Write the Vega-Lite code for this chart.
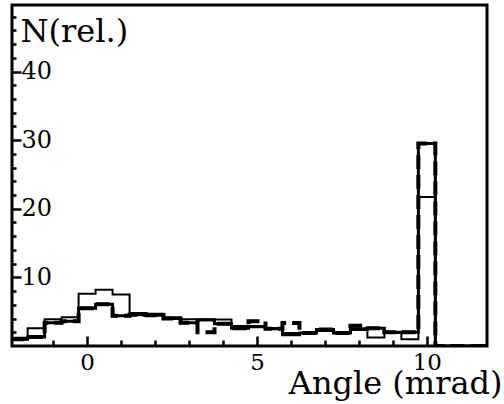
{
  "$schema": "https://vega.github.io/schema/vega-lite/v6.json",
  "width": 475,
  "height": 341,
  "autosize": "none",
  "padding": {"left": 12, "top": 5, "right": 17, "bottom": 58},
  "background": "white",
  "config": {
    "view": {"stroke": "black", "strokeWidth": 3},
    "font": "DejaVu Serif"
  },
  "data": {
    "values": [
      {"s": "thin", "e": -2.25, "n": 1.2}, {"s": "thin", "e": -1.75, "n": 2.6}, {"s": "thin", "e": -1.25, "n": 3.9}, {"s": "thin", "e": -0.75, "n": 4.2}, {"s": "thin", "e": -0.25, "n": 7.6}, {"s": "thin", "e": 0.25, "n": 8.2}, {"s": "thin", "e": 0.75, "n": 7.5}, {"s": "thin", "e": 1.25, "n": 4.8}, {"s": "thin", "e": 1.75, "n": 4.7}, {"s": "thin", "e": 2.25, "n": 4.2}, {"s": "thin", "e": 2.75, "n": 3.9}, {"s": "thin", "e": 3.25, "n": 3.9}, {"s": "thin", "e": 3.75, "n": 3.85}, {"s": "thin", "e": 4.25, "n": 2.9}, {"s": "thin", "e": 4.75, "n": 2.9}, {"s": "thin", "e": 5.25, "n": 2.6}, {"s": "thin", "e": 5.75, "n": 1.9}, {"s": "thin", "e": 6.25, "n": 1.9}, {"s": "thin", "e": 6.75, "n": 2.2}, {"s": "thin", "e": 7.25, "n": 1.9}, {"s": "thin", "e": 7.75, "n": 2.6}, {"s": "thin", "e": 8.25, "n": 1.25}, {"s": "thin", "e": 8.75, "n": 1.9}, {"s": "thin", "e": 9.25, "n": 1.0}, {"s": "thin", "e": 9.75, "n": 21.7}, {"s": "thin", "e": 10.25, "n": 0}, {"s": "thin", "e": 11.75, "n": 0},
      {"s": "thick", "e": -2.25, "n": 1.0}, {"s": "thick", "e": -1.75, "n": 1.3}, {"s": "thick", "e": -1.25, "n": 3.4}, {"s": "thick", "e": -0.75, "n": 3.6}, {"s": "thick", "e": -0.25, "n": 5.5}, {"s": "thick", "e": 0.25, "n": 6.1}, {"s": "thick", "e": 0.75, "n": 4.4}, {"s": "thick", "e": 1.25, "n": 4.55}, {"s": "thick", "e": 1.75, "n": 4.5}, {"s": "thick", "e": 2.25, "n": 4.0}, {"s": "thick", "e": 2.75, "n": 3.4}, {"s": "thick", "e": 3.25, "n": 3.8}, {"s": "thick", "e": 3.75, "n": 3.25}, {"s": "thick", "e": 4.25, "n": 2.6}, {"s": "thick", "e": 4.75, "n": 2.8}, {"s": "thick", "e": 5.25, "n": 2.5}, {"s": "thick", "e": 5.75, "n": 1.65}, {"s": "thick", "e": 6.25, "n": 1.9}, {"s": "thick", "e": 6.75, "n": 2.4}, {"s": "thick", "e": 7.25, "n": 1.9}, {"s": "thick", "e": 7.75, "n": 2.4}, {"s": "thick", "e": 8.25, "n": 2.6}, {"s": "thick", "e": 8.75, "n": 2.0}, {"s": "thick", "e": 9.25, "n": 2.0}, {"s": "thick", "e": 9.75, "n": 29.5}, {"s": "thick", "e": 10.25, "n": 0}, {"s": "thick", "e": 11.75, "n": 0},
      {"s": "dashed", "e": -2.25, "n": 1.0}, {"s": "dashed", "e": -1.75, "n": 1.3}, {"s": "dashed", "e": -1.25, "n": 3.4}, {"s": "dashed", "e": -0.75, "n": 3.6}, {"s": "dashed", "e": -0.25, "n": 5.5}, {"s": "dashed", "e": 0.25, "n": 6.1}, {"s": "dashed", "e": 0.75, "n": 4.4}, {"s": "dashed", "e": 1.25, "n": 4.55}, {"s": "dashed", "e": 1.75, "n": 4.5}, {"s": "dashed", "e": 2.25, "n": 4.0}, {"s": "dashed", "e": 2.75, "n": 3.4}, {"s": "dashed", "e": 3.25, "n": 2.0}, {"s": "dashed", "e": 3.75, "n": 3.25}, {"s": "dashed", "e": 4.25, "n": 2.6}, {"s": "dashed", "e": 4.75, "n": 3.6}, {"s": "dashed", "e": 5.25, "n": 2.5}, {"s": "dashed", "e": 5.75, "n": 3.35}, {"s": "dashed", "e": 6.25, "n": 1.9}, {"s": "dashed", "e": 6.75, "n": 2.4}, {"s": "dashed", "e": 7.25, "n": 1.9}, {"s": "dashed", "e": 7.75, "n": 2.95}, {"s": "dashed", "e": 8.25, "n": 2.6}, {"s": "dashed", "e": 8.75, "n": 2.0}, {"s": "dashed", "e": 9.25, "n": 2.0}, {"s": "dashed", "e": 9.75, "n": 29.5}, {"s": "dashed", "e": 10.25, "n": 0}, {"s": "dashed", "e": 11.75, "n": 0}
    ]
  },
  "mark": {"type": "line", "interpolate": "step-after", "color": "black", "clip": true, "strokeCap": "butt"},
  "encoding": {
    "x": {
      "field": "e", "type": "quantitative",
      "scale": {"domain": [-2.21, 11.77], "nice": false, "zero": false},
      "axis": {
        "values": [-1, 0, 1, 2, 3, 4, 5, 6, 7, 8, 9, 10],
        "domain": false, "grid": false,
        "tickColor": "black", "tickWidth": 2.5,
        "tickSize": {"condition": {"test": "datum.value % 5 === 0", "value": -10}, "value": -6},
        "labelExpr": "datum.value % 5 === 0 ? datum.label : ''",
        "labelFont": "DejaVu Serif", "labelFontSize": 23, "labelColor": "black",
        "labelPadding": 15, "labelBaseline": "top", "labelFlush": false,
        "title": "Angle (mrad)", "titleFont": "DejaVu Serif", "titleFontSize": 32,
        "titleFontWeight": "normal", "titleColor": "black",
        "titleAnchor": "end", "titleAlign": "right", "titleBaseline": "alphabetic",
        "titleX": 490, "titleY": 47
      }
    },
    "y": {
      "field": "n", "type": "quantitative",
      "scale": {"domain": [0, 49.7], "nice": false},
      "axis": {
        "values": [2, 4, 6, 8, 10, 12, 14, 16, 18, 20, 22, 24, 26, 28, 30, 32, 34, 36, 38, 40, 42, 44, 46, 48],
        "domain": false, "grid": false,
        "tickColor": "black", "tickWidth": 2.5,
        "tickSize": {"condition": {"test": "datum.value % 10 === 0", "value": -9}, "value": -4},
        "labelExpr": "datum.value % 10 === 0 ? datum.label : ''",
        "labelFont": "DejaVu Serif", "labelFontSize": 24, "labelColor": "black",
        "labelAlign": "left", "labelPadding": 0, "labelBaseline": "middle", "labelFlush": false,
        "title": "N(rel.)", "titleFont": "DejaVu Serif", "titleFontSize": 32,
        "titleFontWeight": "normal", "titleColor": "black",
        "titleAngle": 0, "titleAlign": "left", "titleBaseline": "alphabetic",
        "titleX": 8, "titleY": 36
      }
    },
    "detail": {"field": "s"},
    "strokeWidth": {"field": "s", "type": "nominal", "scale": {"domain": ["thin", "thick", "dashed"], "range": [2, 4, 4]}, "legend": null},
    "strokeDash": {"field": "s", "type": "nominal", "scale": {"domain": ["thin", "thick", "dashed"], "range": [[1, 0], [1, 0], [14, 6]]}, "legend": null}
  }
}
